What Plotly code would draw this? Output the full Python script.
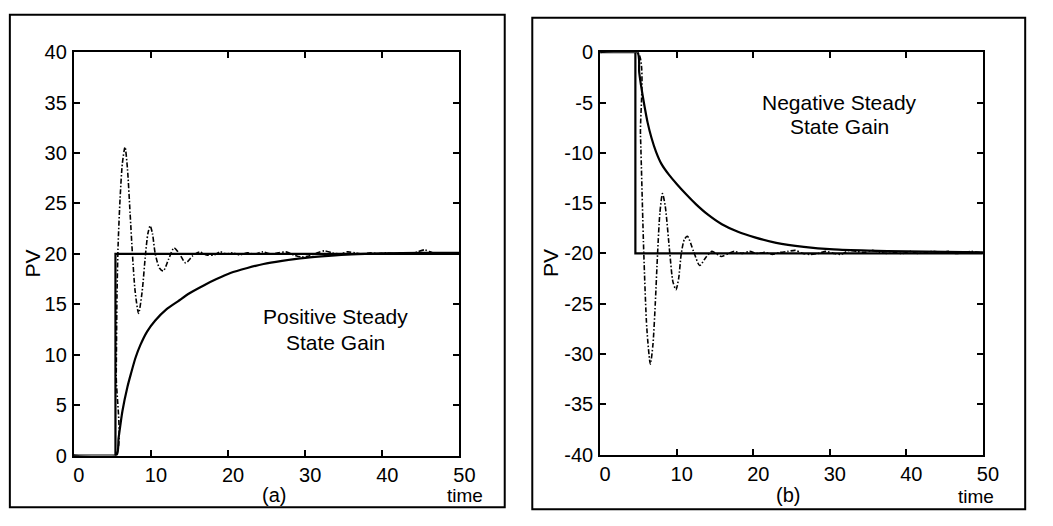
import plotly.graph_objects as go

W, H = 1053, 526

# ---------------- data ----------------
# Panel (a): positive steady state gain
a_sp_t = [0, 5.4, 5.4, 50]
a_sp_y = [0, 0, 20, 20]

a_slow_t = [0, 5.5, 5.8, 6.3, 6.95, 7.4, 8.0, 8.65, 9.5, 10.56, 12.0, 13.5, 15.0,
            16.9, 18.5, 20.3, 22.5, 24.6, 27.0, 30.0, 33.0, 36.0, 40.0, 45.0, 50.0]
a_slow_y = [0, 0, 1.7, 4.4, 6.8, 8.1, 9.7, 11.0, 12.3, 13.4, 14.5, 15.3, 16.1,
            16.9, 17.5, 18.1, 18.6, 19.0, 19.3, 19.6, 19.8, 19.95, 20.05, 20.1, 20.1]

a_osc_t = [0, 5.4, 5.5, 5.6, 5.75, 6.0, 6.3, 6.64, 6.95, 7.3, 7.6, 7.95, 8.4, 8.85, 9.3,
           9.6, 9.9, 10.2, 10.56, 11.1, 11.6, 12.3, 13.0, 13.7, 14.5, 15.4, 16.3, 17.2,
           18.2, 19.0, 19.8, 20.6, 21.5, 22.5, 23.5, 24.5, 25.5, 26.5, 27.5, 28.5, 29.5,
           30.5, 31.5, 32.5, 33.5, 34.5, 35.5, 36.5, 37.5, 38.5, 39.5, 40.5, 41.5, 42.5,
           43.5, 44.5, 45.5, 46.5, 47.5, 48.5, 49.5, 50.0]
a_osc_y = [0, 0, 8, 16, 21, 25.5, 29, 30.6, 28.5, 24, 20, 16.3, 14.1, 16.2, 20,
           22, 22.8, 22.0, 20, 18.6, 18.3, 19.5, 20.6, 20.0, 19.1, 19.8, 20.2, 19.9,
           19.9, 20.2, 20.0, 20.1, 19.9, 20.1, 20.0, 20.2, 20.0, 20.1, 20.2, 19.9, 19.7,
           19.8, 20.1, 20.3, 20.1, 20.0, 20.2, 20.1, 20.0, 20.1, 20.0, 20.1, 20.0, 20.1,
           20.0, 20.2, 20.4, 20.1, 20.0, 20.1, 20.1, 20.1]

# Panel (b): negative steady state gain
b_sp_t = [0, 4.6, 4.6, 50]
b_sp_y = [0, 0, -20, -20]

b_slow_t = [0, 4.85, 5.1, 5.4, 5.8, 6.2, 6.7, 7.3, 8.0, 9.0, 10.0, 11.2, 12.5, 14.0,
            15.9, 18.0, 20.2, 23.0, 26.6, 30.5, 35, 40, 45, 50]
b_slow_y = [0, 0, -2.0, -3.6, -5.4, -7.0, -8.5, -9.9, -11.1, -12.2, -13.1, -14.1,
            -15.1, -16.1, -17.1, -17.85, -18.4, -18.95, -19.35, -19.6, -19.72, -19.8,
            -19.85, -19.9]

b_osc_t = [0, 4.9, 5.27, 5.7, 6.1, 6.56, 6.9, 7.2, 7.5, 7.8, 8.14, 8.5, 9.1, 9.5, 9.9,
           10.25, 10.6, 11.0, 11.4, 12.2, 13.0, 13.8, 14.6, 15.8, 16.8, 17.5, 18.5, 19.5,
           20.5, 21.5, 22.5, 23.5, 24.5, 25.5, 26.5, 27.5, 28.5, 29.5, 30.5, 31.5, 32.5,
           33.5, 34.5, 35.5, 36.5, 37.5, 38.5, 39.5, 40.5, 41.5, 42.5, 43.5, 44.5, 45.5,
           46.5, 47.5, 48.5, 49.5, 50]
b_osc_y = [0, 0, -8.3, -20, -27.5, -31, -29, -25, -20, -16, -14.05, -15.3, -20, -22.8,
           -23.6, -22.5, -20, -18.6, -18.3, -19.8, -21.2, -20.4, -19.8, -20.3, -20.0, -19.8,
           -20.0, -19.8, -20.0, -19.9, -20.1, -19.9, -19.8, -19.7, -20.0, -20.1, -20.0,
           -19.8, -20.0, -20.1, -19.7, -19.8, -19.9, -19.7, -19.9, -20.0, -19.9, -20.0,
           -19.8, -20.0, -19.9, -19.8, -19.9, -19.8, -20.0, -19.9, -19.8, -19.9, -19.9]

x_ticks = [0, 10, 20, 30, 40, 50]
x_labels = ["0", "10", "20", "30", "40", "50"]
a_y_ticks = [0, 5, 10, 15, 20, 25, 30, 35, 40]
a_y_labels = ["0", "5", "10", "15", "20", "25", "30", "35", "40"]
b_y_ticks = [0, -5, -10, -15, -20, -25, -30, -35, -40]
b_y_labels = ["0", "-5", "-10", "-15", "-20", "-25", "-30", "-35", "-40"]

# ---------------- figure ----------------
def px(x):
    return x / W

def py(y):
    return 1 - y / H

FONT = "Liberation Sans, Arial, Helvetica, sans-serif"
BLACK = "#000000"

fig = go.Figure()

solid = dict(color=BLACK, width=2.2)
dashdot = dict(color=BLACK, width=1.6, dash="5px,2px,1.5px,2px")

fig.add_trace(go.Scatter(x=a_sp_t, y=a_sp_y, mode="lines", line=solid, xaxis="x", yaxis="y"))
fig.add_trace(go.Scatter(x=a_slow_t, y=a_slow_y, mode="lines",
                         line=dict(solid, shape="spline", smoothing=0.7), xaxis="x", yaxis="y"))
fig.add_trace(go.Scatter(x=a_osc_t, y=a_osc_y, mode="lines",
                         line=dict(dashdot, shape="spline", smoothing=0.7), xaxis="x", yaxis="y"))

fig.add_trace(go.Scatter(x=b_sp_t, y=b_sp_y, mode="lines", line=solid, xaxis="x2", yaxis="y2"))
fig.add_trace(go.Scatter(x=b_slow_t, y=b_slow_y, mode="lines",
                         line=dict(solid, shape="spline", smoothing=0.7), xaxis="x2", yaxis="y2"))
fig.add_trace(go.Scatter(x=b_osc_t, y=b_osc_y, mode="lines",
                         line=dict(dashdot, shape="spline", smoothing=0.7), xaxis="x2", yaxis="y2"))

axis_common = dict(
    showline=True, linecolor=BLACK, linewidth=2, mirror="ticks",
    ticks="inside", ticklen=6, tickwidth=1.5, tickcolor=BLACK,
    showgrid=False, zeroline=False,
    tickfont=dict(family=FONT, size=20, color=BLACK),
)

fig.update_layout(
    width=W, height=H, autosize=False,
    margin=dict(l=0, r=0, t=0, b=0),
    paper_bgcolor="white", plot_bgcolor="white",
    showlegend=False,
    xaxis=dict(axis_common, domain=[px(74), px(466)], range=[0, 50],
               tickvals=x_ticks, ticktext=x_labels,
               anchor="y", ticklabelshift=5, ticklabelstandoff=0),
    yaxis=dict(axis_common, domain=[py(464), py(43)], range=[0, 40],
               tickvals=a_y_ticks, ticktext=a_y_labels,
               anchor="x", ticklabelstandoff=1),
    xaxis2=dict(axis_common, domain=[px(609), px(998)], range=[0, 50],
                tickvals=x_ticks, ticktext=x_labels,
                anchor="y2", ticklabelshift=5, ticklabelstandoff=0),
    yaxis2=dict(axis_common, domain=[py(463), py(43)], range=[-40, 0],
                tickvals=b_y_ticks, ticktext=b_y_labels,
                anchor="x2", ticklabelstandoff=1),
)

def ann(x, y, text, size=20, angle=0):
    fig.add_annotation(x=px(x), y=py(y), xref="paper", yref="paper", text=text,
                       showarrow=False, textangle=angle, xanchor="center", yanchor="middle",
                       font=dict(family=FONT, size=size, color=BLACK))

ann(32, 263, "PV", 21, -90)
ann(558, 263, "PV", 21, -90)
ann(340, 319, "Positive Steady", 21)
ann(340, 346, "State Gain", 21)
ann(852, 95, "Negative Steady", 21)
ann(852, 121, "State Gain", 21)
ann(277, 505, "(a)", 20)
ann(800, 505, "(b)", 20)
ann(472, 506, "time", 19)
ann(991, 507, "time", 19)

# outer frames
for x0, y0, x1, y1 in [(9, 4, 512, 518), (540, 7, 1041, 520)]:
    fig.add_shape(type="rect", xref="paper", yref="paper",
                  x0=px(x0), y0=py(y1), x1=px(x1), y1=py(y0),
                  line=dict(color=BLACK, width=2), fillcolor="rgba(0,0,0,0)")

fig.write_html("out.html", config={"displayModeBar": False, "responsive": False},
               post_script="document.body.style.margin='0';document.body.style.overflow='hidden';")
